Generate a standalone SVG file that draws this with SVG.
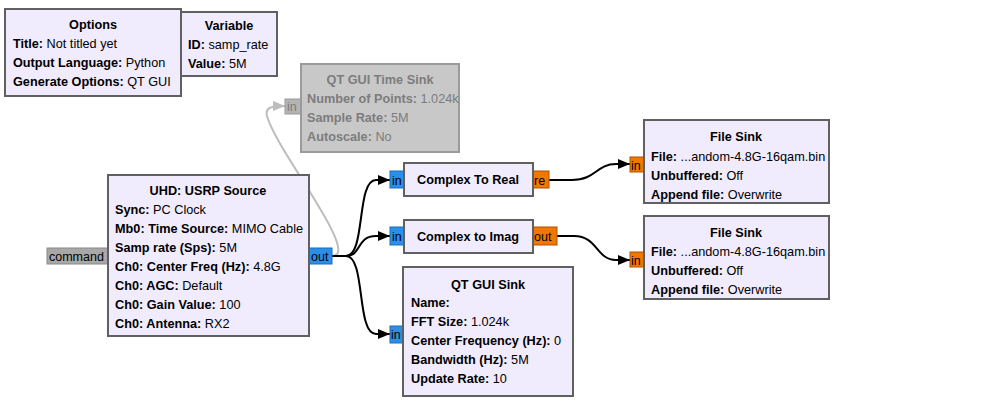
<svg xmlns="http://www.w3.org/2000/svg" width="996" height="415" viewBox="0 0 996 415">
<defs>
<style>
text{font-family:"Liberation Sans",Arial,sans-serif;font-size:12.7px;fill:#000}
.b{font-weight:bold}
.t{font-weight:bold;text-anchor:middle}
.blk{fill:#f0ecfe;stroke:#606060;stroke-width:2}
.dis{fill:#c8c8c8;stroke:#9a9a9a;stroke-width:2}
.dtx text{fill:#7c7c7c}
.pb{fill:#2b8fe8;stroke:#1a6ec0;stroke-width:1}
.po{fill:#f07800;stroke:#b05000;stroke-width:1}
.pg{fill:#a8a8a8;stroke:#888;stroke-width:1}
.pd{fill:#b4b4b4;stroke:#999;stroke-width:1}
.pt{font-size:12.5px}
.c{fill:none;stroke:#000;stroke-width:2}
.cg{fill:none;stroke:#bdbdbd;stroke-width:2}
</style>
<marker id="ah" viewBox="0 0 12 10" refX="12" refY="5" markerWidth="12" markerHeight="10" markerUnits="userSpaceOnUse" orient="auto"><path d="M0,0 L12,5 L0,10 Z" fill="#000"/></marker>
<marker id="ahg" viewBox="0 0 12 10" refX="12" refY="5" markerWidth="12" markerHeight="10" markerUnits="userSpaceOnUse" orient="auto"><path d="M0,0 L12,5 L0,10 Z" fill="#bdbdbd"/></marker>
</defs>
<rect width="996" height="415" fill="#fff"/>

<g id="connectors">
<path class="cg" marker-end="url(#ahg)" d="M332,256 C362,256 276,150 267,116 C265,108 270,106 285,106"/>
<path class="c" marker-end="url(#ah)" d="M332,256 L346,256 C366,256 356,180 376,180 L390,180"/>
<path class="c" marker-end="url(#ah)" d="M332,256 L346,256 C362,256 356,236 376,236 L390,236"/>
<path class="c" marker-end="url(#ah)" d="M332,256 L346,256 C366,256 356,334 376,334 L390,334"/>
<path class="c" marker-end="url(#ah)" d="M549,180 L572,180 C596,180 596,164 616,164 L630,164"/>
<path class="c" marker-end="url(#ah)" d="M557,236 L574,236 C598,236 596,260 616,260 L630,260"/>
</g>

<g id="options">
<rect class="blk" x="5" y="9" width="176" height="87"/>
<text class="t" x="93" y="29">Options</text>
<text x="13" y="48"><tspan class="b">Title:</tspan> Not titled yet</text>
<text x="13" y="67"><tspan class="b">Output Language:</tspan> Python</text>
<text x="13" y="86"><tspan class="b">Generate Options:</tspan> QT GUI</text>
</g>

<g id="variable">
<rect class="blk" x="181" y="12" width="96" height="64"/>
<text class="t" x="229" y="30">Variable</text>
<text x="188" y="49"><tspan class="b">ID:</tspan> samp_rate</text>
<text x="188" y="68"><tspan class="b">Value:</tspan> 5M</text>
</g>

<g id="qt_gui_time_sink" class="dtx">
<rect class="pd" x="285" y="99" width="16" height="15"/>
<text class="pt" x="287" y="111">in</text>
<rect class="dis" x="301" y="64" width="158" height="88"/>
<text class="t" x="380" y="84">QT GUI Time Sink</text>
<text x="307" y="103"><tspan class="b">Number of Points:</tspan> 1.024k</text>
<text x="307" y="122"><tspan class="b">Sample Rate:</tspan> 5M</text>
<text x="307" y="141"><tspan class="b">Autoscale:</tspan> No</text>
</g>

<g id="uhd_usrp_source">
<rect class="pg" x="47" y="248" width="61" height="16"/>
<text class="pt" x="49" y="261">command</text>
<rect class="pb" x="309" y="248" width="23" height="16"/>
<text class="pt" x="311" y="261">out</text>
<rect class="blk" x="108" y="175" width="201" height="161"/>
<text class="t" x="208" y="195">UHD: USRP Source</text>
<text x="115" y="214"><tspan class="b">Sync:</tspan> PC Clock</text>
<text x="115" y="233"><tspan class="b">Mb0: Time Source:</tspan> MIMO Cable</text>
<text x="115" y="252"><tspan class="b">Samp rate (Sps):</tspan> 5M</text>
<text x="115" y="271"><tspan class="b">Ch0: Center Freq (Hz):</tspan> 4.8G</text>
<text x="115" y="290"><tspan class="b">Ch0: AGC:</tspan> Default</text>
<text x="115" y="309"><tspan class="b">Ch0: Gain Value:</tspan> 100</text>
<text x="115" y="328"><tspan class="b">Ch0: Antenna:</tspan> RX2</text>
</g>

<g id="complex_to_real">
<rect class="pb" x="390" y="171" width="14" height="17"/>
<text class="pt" x="392" y="185">in</text>
<rect class="po" x="533" y="171" width="16" height="17"/>
<text class="pt" x="534" y="185">re</text>
<rect class="blk" x="404" y="163" width="129" height="33"/>
<text class="t" x="468" y="184">Complex To Real</text>
</g>

<g id="complex_to_imag">
<rect class="pb" x="390" y="227" width="14" height="18"/>
<text class="pt" x="392" y="241">in</text>
<rect class="po" x="533" y="227" width="24" height="18"/>
<text class="pt" x="534" y="241">out</text>
<rect class="blk" x="404" y="220" width="129" height="33"/>
<text class="t" x="468" y="241">Complex to Imag</text>
</g>

<g id="qt_gui_sink">
<rect class="pb" x="390" y="326" width="13" height="17"/>
<text class="pt" x="391" y="339">in</text>
<rect class="blk" x="403" y="267" width="170" height="129"/>
<text class="t" x="488" y="289">QT GUI Sink</text>
<text x="411" y="307"><tspan class="b">Name:</tspan></text>
<text x="411" y="326"><tspan class="b">FFT Size:</tspan> 1.024k</text>
<text x="411" y="345"><tspan class="b">Center Frequency (Hz):</tspan> 0</text>
<text x="411" y="364"><tspan class="b">Bandwidth (Hz):</tspan> 5M</text>
<text x="411" y="383"><tspan class="b">Update Rate:</tspan> 10</text>
</g>

<g id="file_sink_1">
<rect class="po" x="630" y="157" width="14" height="15"/>
<text class="pt" x="631" y="170">in</text>
<rect class="blk" x="644" y="120" width="185" height="83"/>
<text class="t" x="736" y="141">File Sink</text>
<text x="651" y="161"><tspan class="b">File:</tspan> ...andom-4.8G-16qam.bin</text>
<text x="651" y="180"><tspan class="b">Unbuffered:</tspan> Off</text>
<text x="651" y="199"><tspan class="b">Append file:</tspan> Overwrite</text>
</g>

<g id="file_sink_2">
<rect class="po" x="630" y="252" width="14" height="15"/>
<text class="pt" x="631" y="265">in</text>
<rect class="blk" x="644" y="216" width="185" height="83"/>
<text class="t" x="736" y="237">File Sink</text>
<text x="651" y="256"><tspan class="b">File:</tspan> ...andom-4.8G-16qam.bin</text>
<text x="651" y="275"><tspan class="b">Unbuffered:</tspan> Off</text>
<text x="651" y="294"><tspan class="b">Append file:</tspan> Overwrite</text>
</g>
</svg>
